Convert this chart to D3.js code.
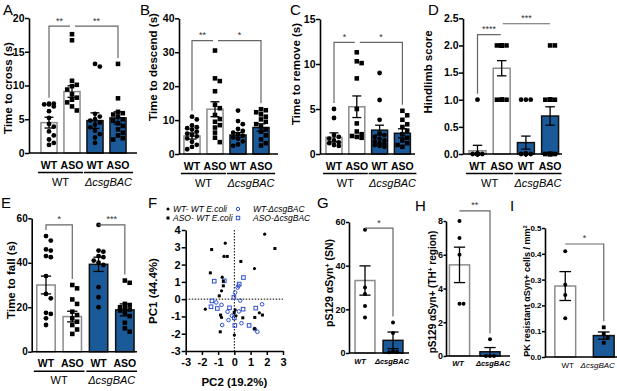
<!DOCTYPE html>
<html>
<head>
<meta charset="utf-8">
<script src="https://d3js.org/d3.v7.min.js"></script>
<style>
  body { margin: 0; background: #fff; }
  svg { font-family: "Liberation Sans", Arial, sans-serif; }
</style>
</head>
<body>
<svg width="617" height="391"></svg>
<script>
// ---- values ----
const groups4 = ["WT", "ASO", "WT", "ASO"];
const strains = ["WT", "ΔcsgBAC"];

// A: time to cross (s)
const crossMean = [4.5, 9.1, 4.8, 5.2];
const crossSem = [0.8, 0.85, 1.15, 0.9];
const crossPts = [
  [7.3, 7.3, 7.2, 7.2, 6.9, 6.2, 5.2, 4.3, 3.9, 3.2, 2.6, 2.0, 1.5, 1.2],
  [17.6, 16.7, 10.7, 10.1, 9.9, 9.4, 8.7, 8.2, 7.9, 7.5, 6.9, 6.3],
  [13.2, 12.8, 5.8, 5.4, 5.0, 4.8, 4.5, 4.2, 3.8, 3.3, 2.8, 2.3, 1.5],
  [13.2, 8.1, 6.1, 5.9, 5.7, 5.4, 5.0, 4.8, 4.4, 4.0, 3.5, 3.0, 2.6, 2.2, 2.0]
];
// B: time to descend (s)
const descMean = [5.3, 13.2, 5.6, 7.8];
const descSem = [0.9, 2.2, 0.7, 1.1];
const descPts = [
  [11.0, 10.2, 8.4, 7.9, 7.6, 7.2, 6.6, 6.0, 5.6, 5.2, 4.6, 3.6, 2.7, 2.1, 1.4],
  [30.5, 22.3, 21.5, 18.5, 14.5, 13.5, 11.5, 10.3, 9.5, 8.5, 7.8, 6.3, 4.8, 3.5],
  [12.8, 9.7, 8.8, 7.4, 6.8, 6.3, 5.9, 5.4, 4.9, 4.5, 3.7, 2.8, 2.4],
  [13.2, 12.9, 12.3, 11.7, 11.0, 10.2, 9.5, 8.8, 8.1, 7.3, 6.6, 5.5, 4.3, 3.2, 2.5]
];
// C: time to remove (s)
const remMean = [1.85, 5.25, 2.65, 2.3];
const remSem = [0.5, 1.2, 0.55, 0.5];
const remPts = [
  [5.0, 4.0, 2.1, 1.9, 1.7, 1.5, 1.3, 1.2, 1.0, 0.9],
  [11.3, 10.3, 10.1, 8.4, 5.0, 3.4, 2.5, 2.2, 2.0, 1.9, 1.8],
  [9.0, 6.0, 3.8, 2.3, 2.1, 1.9, 1.7, 1.5, 1.4, 1.2, 1.1, 1.0, 0.9, 0.8],
  [4.8, 4.3, 3.8, 3.3, 3.0, 2.6, 2.2, 1.8, 1.5, 1.2, 1.0, 0.8]
];
// D: hindlimb score
const hindMean = [0.06, 1.58, 0.21, 0.7];
const hindSem = [0.1, 0.14, 0.12, 0.17];
const hindPts = [
  [1, 0, 0, 0, 0, 0, 0, 0, 0, 0, 0, 0, 0, 0],
  [2, 2, 2, 2, 2, 2, 2, 1, 1, 1, 1, 1],
  [1, 1, 1, 0, 0, 0, 0, 0, 0, 0, 0, 0, 0, 0],
  [2, 2, 1, 1, 1, 1, 1, 1, 0, 0, 0, 0, 0, 0]
];
// E: time to fall (s)
const fallMean = [30.0, 15.8, 39.3, 18.8];
const fallSem = [4.0, 2.4, 3.2, 2.7];
const fallPts = [
  [52, 50, 46, 45.5, 43, 42.5, 34, 26, 24, 17.5, 17, 15, 12],
  [30, 28.5, 23.5, 21.5, 18, 16.5, 15, 13.5, 12, 10, 8],
  [57, 45.5, 45, 43, 42.5, 41, 40, 39, 29, 24.5, 20],
  [32, 31, 21.5, 21, 20, 19.5, 19, 18.5, 17.5, 16, 13, 10.5, 9]
];
// F: PCA (PC2, PC1)
const pcaWtWt = [[1.87, 3.76], [-0.56, 3.24], [-0.64, 2.47], [1.24, 1.77], [-0.75, 1.27], [-0.79, 0.48],
  [-1.79, -0.58], [-0.79, -1.06], [0.05, -0.62], [1.54, -0.79], [1.24, -1.71], [0.0, -2.08], [0.1, -0.96]];
const pcaAsoWt = [[2.5, 2.93], [-1.4, 2.87], [-0.44, 2.47], [0.4, 2.18], [-1.48, 1.52], [-0.68, 1.04],
  [-0.68, 0.77], [-0.93, 0.19], [-0.85, -0.92], [-0.01, -0.77], [0.52, -1.08], [1.73, -0.92], [1.26, -1.06], [-0.87, -1.89]];
const pcaWtKo = [[0.25, 0.77], [0.2, 0.67], [0.05, 0.38], [-1.12, -0.19], [-0.79, -0.33], [-0.42, -0.73],
  [0.36, -0.08], [0.28, -0.71], [1.71, -0.3], [-0.15, -0.96], [-0.36, -1.21], [-0.75, -1.5], [0.44, -1.39], [1.26, -1.73], [1.42, -1.89]];
const pcaAsoKo = [[-1.24, 1.04], [-0.62, 1.06], [0.56, 1.25], [0.3, 0.87], [-1.38, -0.1], [-1.44, -0.44],
  [-1.05, -0.54], [-0.3, -0.5], [0.54, -0.58], [1.32, -0.52], [0.0, -1.08], [0.03, -1.52], [0.91, -1.52], [-0.03, 0.1]];
// G: pS129 aSyn+ (SN)
const snMean = [33.2, 5.8];
const snSem = [6.7, 3.8];
const snPts = [[56.5, 30, 27, 21.5, 16.3], [14, 9.2, 0.8, 0.6, 0.4]];
// H: pS129 aSyn+ (TH+ region)
const thMean = [5.4, 0.25];
const thSem = [1.05, 0.25];
const thPts = [[8.0, 7.0, 6.0, 3.1, 3.1], [1.0, 0, 0, 0]];
// I: PK resistant aSyn+ cells / mm2
const pkMean = [0.275, 0.083];
const pkSem = [0.056, 0.014];
const pkPts = [[0.41, 0.28, 0.24, 0.15], [0.115, 0.09, 0.075, 0.055]];

// ---- drawing ----
const svg = d3.select("svg");
const BLUE = "#1b5a99";
const PBLUE = "#2f4fd0";

function letter(t, x, y) {
  svg.append("text").attr("x", x).attr("y", y).attr("font-size", 15).text(t);
}

function ytitle(parts, x, y, size) {
  const t = svg.append("text")
    .attr("transform", `translate(${x},${y}) rotate(-90)`)
    .attr("text-anchor", "middle").attr("font-weight", "bold")
    .attr("font-size", size);
  parts.forEach(p => {
    const s = t.append("tspan").text(p[0]);
    if (p[1] === "sup") s.attr("baseline-shift", "super").attr("font-size", size * 0.65);
  });
}

// small beeswarm so points of a column do not sit on top of each other
function spread(vals, y, bw, d) {
  const lim = Math.max(0, (bw - d) / 2);
  const s = Math.min(d, lim) || 1;
  const cands = [0];
  for (let k = 1; k * s <= lim + 0.01; k++) cands.push(k * s, -k * s);
  const order = vals.map((v, i) => i).sort((a, b) => vals[b] - vals[a]);
  const placed = [], out = [];
  order.forEach(j => {
    const py = y(vals[j]);
    let best = 0, bestD = -1;
    for (const c of cands) {
      let md = Infinity;
      placed.forEach(q => { md = Math.min(md, Math.hypot(c - q[0], py - q[1])); });
      if (md >= d) { best = c; bestD = md; break; }
      if (md > bestD) { bestD = md; best = c; }
    }
    out[j] = best;
    placed.push([best, py]);
  });
  return out;
}

function marker(g, shape, x, y, size, opts) {
  opts = opts || {};
  const fill = opts.fill || "#000";
  if (shape === "sq") {
    g.append("rect").attr("x", x - size / 2).attr("y", y - size / 2)
      .attr("width", size).attr("height", size)
      .attr("fill", opts.open ? "none" : fill)
      .attr("stroke", opts.open ? fill : "none").attr("stroke-width", opts.open ? 1 : 0);
  } else {
    g.append("circle").attr("cx", x).attr("cy", y).attr("r", size / 2)
      .attr("fill", opts.open ? "none" : fill)
      .attr("stroke", opts.open ? fill : "none").attr("stroke-width", opts.open ? 1 : 0);
  }
}

function styleAxis(a, size) {
  a.select(".domain").attr("stroke-width", 1.6);
  a.selectAll(".tick line").attr("stroke-width", 1.5);
  a.selectAll("text").attr("font-size", size).attr("font-weight", "bold")
    .attr("font-family", "Liberation Sans, Arial, sans-serif").attr("fill", "#000");
}

function barPanel(p) {
  const g = svg.append("g");
  const y = d3.scaleLinear().domain(p.domain).range(p.yRange);
  const x = d3.scaleBand().domain(d3.range(p.means.length)).range(p.band)
    .paddingInner(p.pad).paddingOuter(p.pad / 2);
  const bw = x.bandwidth();
  const cx = i => x(i) + bw / 2;

  // bars
  p.means.forEach((m, i) => {
    const ko = p.ko[i];
    g.append("rect").attr("x", x(i)).attr("y", y(m))
      .attr("width", bw).attr("height", y(0) - y(m))
      .attr("fill", ko ? BLUE : "#fff")
      .attr("stroke", ko ? "#111" : "#8c8c8c").attr("stroke-width", 1.5);
  });

  // points
  const ms = p.ms || 4.8;
  p.pts.forEach((vals, i) => {
    const off = spread(vals, y, bw, ms);
    vals.forEach((v, k) => marker(g, p.shapes[i], cx(i) + off[k], y(v), p.shapes[i] === "sq" ? ms * 0.95 : ms));
  });

  // error bars (mean +/- sem)
  p.means.forEach((m, i) => {
    const s = p.sems[i], c = cx(i), w = bw * 0.28;
    g.append("line").attr("x1", c).attr("x2", c).attr("y1", y(m + s)).attr("y2", y(Math.max(0, m - s)))
      .attr("stroke", "#000").attr("stroke-width", 1.3);
    [m + s, Math.max(0, m - s)].forEach(v => g.append("line").attr("x1", c - w).attr("x2", c + w)
      .attr("y1", y(v)).attr("y2", y(v)).attr("stroke", "#000").attr("stroke-width", 1.3));
  });

  // axes
  const ts = p.tick || 4;
  const ya = g.append("g").attr("transform", `translate(${p.ax},0)`)
    .call(d3.axisLeft(y).tickValues(p.ticks).tickFormat(p.fmt || d3.format("d")).tickSize(ts).tickSizeOuter(0));
  styleAxis(ya, p.tickSize || 11);
  ya.selectAll("text").attr("x", -ts - (p.gap === undefined ? 0.5 : p.gap));
  g.append("line").attr("x1", p.ax).attr("x2", p.xEnd).attr("y1", y(0)).attr("y2", y(0))
    .attr("stroke", "#000").attr("stroke-width", 1.6);

  // significance brackets
  (p.sig || []).forEach(s => {
    const yl = y(s.y);
    const x1 = cx(s.a) + (s.ga || 0), x2 = cx(s.b) - (s.gb || 0);
    const path = d3.path();
    if (s.dl) { path.moveTo(x1, y(d3.max(p.pts[s.a])) - 6); path.lineTo(x1, yl); } else path.moveTo(x1, yl);
    path.lineTo(x2, yl);
    if (s.dr) path.lineTo(x2, y(d3.max(p.pts[s.b])) - 6);
    g.append("path").attr("d", path.toString()).attr("fill", "none")
      .attr("stroke", "#666").attr("stroke-width", 1.2);
    g.append("text").attr("x", (x1 + x2) / 2).attr("y", yl - 2.5).attr("text-anchor", "middle")
      .attr("font-size", 9).attr("fill", "#333").text(s.t);
  });

  // category labels
  const y0 = y(0);
  if (p.pairs) {
    p.cats.forEach((c, i) => g.append("text").attr("x", cx(i)).attr("y", y0 + 15.5)
      .attr("text-anchor", "middle").attr("font-weight", "bold").attr("font-size", 10.5).text(c));
    [[0, 1], [2, 3]].forEach((pr, k) => {
      const l = x(pr[0]) - 3, r = x(pr[1]) + bw + 3 + (k ? p.ext || 0 : 0);
      g.append("line").attr("x1", l).attr("x2", r).attr("y1", y0 + 19.5).attr("y2", y0 + 19.5)
        .attr("stroke", "#000").attr("stroke-width", 1.5);
      const t = g.append("text").attr("x", (l + r) / 2).attr("y", y0 + 32.5)
        .attr("text-anchor", "middle").attr("font-size", 11);
      if (k) t.append("tspan").attr("font-style", "italic").text(strains[1]);
      else t.text(strains[0]);
    });
  } else {
    p.cats.forEach((c, i) => g.append("text").attr("x", cx(i) + p.catDx[i]).attr("y", y0 + p.catY)
      .attr("text-anchor", "middle").attr("font-size", p.catSize)
      .attr("font-weight", p.catBold ? "bold" : "normal")
      .attr("font-style", i || p.catBold ? "italic" : "normal").text(c));
  }
}

const shp4 = ["c", "sq", "c", "sq"];
const ko4 = [false, false, true, true];

barPanel({ domain: [0, 20], yRange: [153, 18], ticks: [0, 5, 10, 15, 20], ax: 29, xEnd: 137,
  band: [37.5, 129.5], pad: 0.3, means: crossMean, sems: crossSem, pts: crossPts, shapes: shp4, ko: ko4,
  cats: groups4, pairs: true, ext: 4, tickSize: 10.5,
  sig: [{ a: 0, b: 1, y: 18.8, t: "**", dl: true, gb: 2 }, { a: 1, b: 3, y: 18.8, t: "**", dr: true, ga: 3 }] });
barPanel({ domain: [0, 40], yRange: [154, 18.3], ticks: [0, 10, 20, 30, 40], ax: 179, xEnd: 278,
  band: [180.5, 272.5], pad: 0.3, means: descMean, sems: descSem, pts: descPts, shapes: shp4, ko: ko4,
  cats: groups4, pairs: true, ext: 3, tickSize: 10.5,
  sig: [{ a: 0, b: 1, y: 33.4, t: "**", dl: true, gb: 2 }, { a: 1, b: 3, y: 33.4, t: "*", dr: true, ga: 3 }] });
barPanel({ domain: [0, 15], yRange: [154, 19], ticks: [0, 5, 10, 15], ax: 320, xEnd: 415,
  band: [322.6, 413.8], pad: 0.3, means: remMean, sems: remSem, pts: remPts, shapes: shp4, ko: ko4,
  cats: groups4, pairs: true, ext: 3, tickSize: 10.5,
  sig: [{ a: 0, b: 1, y: 12.4, t: "*", dl: true, gb: 2 }, { a: 1, b: 3, y: 12.4, t: "*", dr: true, ga: 3 }] });
barPanel({ domain: [0, 2.5], yRange: [154, 18.3], ticks: [0, 0.5, 1, 1.5, 2, 2.5], fmt: d3.format(".1f"),
  ax: 463, xEnd: 562, band: [465.4, 562.2], pad: 0.3, means: hindMean, sems: hindSem, pts: hindPts,
  shapes: ["c", "sq", "c", "sq"], ko: ko4, cats: groups4, pairs: true, ext: 0, tickSize: 10.5,
  sig: [{ a: 0, b: 1, y: 2.2, t: "****", dl: true, gb: 1 }, { a: 1, b: 3, y: 2.4, t: "***", ga: 1 }] });
barPanel({ domain: [0, 60], yRange: [351.7, 218.3], ticks: [0, 20, 40, 60], ax: 31.7, xEnd: 137,
  band: [32.85, 138], pad: 0.3, means: fallMean, sems: fallSem, pts: fallPts, shapes: shp4, ko: ko4,
  cats: groups4, pairs: true, ext: 0, tickSize: 10, tick: 3.5,
  sig: [{ a: 0, b: 1, y: 57, t: "*", dl: true, dr: true }, { a: 2, b: 3, y: 57, t: "***", dr: true }] });
barPanel({ domain: [0, 60], yRange: [353, 222], ticks: [0, 20, 40, 60], ax: 349, xEnd: 409, tickSize: 9, tick: 3,
  band: [351, 407], pad: 0.29, means: snMean, sems: snSem, pts: snPts, shapes: ["c", "c"], ko: [false, true],
  cats: strains, catY: 11, catBold: true, catSize: 7.5, catDx: [-5, -1], ms: 4,
  sig: [{ a: 0, b: 1, y: 57.2, t: "*", dr: true }] });
barPanel({ domain: [0, 8], yRange: [356, 221], ticks: [0, 2, 4, 6, 8], ax: 446, xEnd: 510, tickSize: 9, tick: 2.5,
  band: [444.25, 505.25], pad: 0.34, means: thMean, sems: thSem, pts: thPts, shapes: ["c", "c"], ko: [false, true],
  cats: strains, catY: 10, catBold: true, catSize: 7.5, catDx: [-1.5, 3], ms: 4,
  sig: [{ a: 0, b: 1, y: 8.6, t: "**", dr: true }] });
barPanel({ domain: [0, 0.5], yRange: [357, 228], ticks: [0, 0.1, 0.2, 0.3, 0.4, 0.5], fmt: d3.format(".1f"),
  ax: 545, xEnd: 617, tickSize: 8, tick: 3, band: [546, 623], pad: 0.46, means: pkMean, sems: pkSem, pts: pkPts,
  shapes: ["c", "sq"], ko: [false, true], cats: strains, catY: 11, catSize: 8, catDx: [2.5, -6], ms: 4,
  sig: [{ a: 0, b: 1, y: 0.438, t: "*", dr: true }] });

// ---- F: PCA scatter ----
(function () {
  const g = svg.append("g");
  const x = d3.scaleLinear().domain([-3, 3]).range([185.7, 283]);
  const y = d3.scaleLinear().domain([-3, 4]).range([351, 230]);
  const xa = g.append("g").attr("transform", `translate(0,${y(-3)})`)
    .call(d3.axisBottom(x).tickValues(d3.range(-3, 4)).tickFormat(d3.format("d")).tickSize(4).tickSizeOuter(0));
  const ya = g.append("g").attr("transform", `translate(${x(-3)},0)`)
    .call(d3.axisLeft(y).tickValues(d3.range(-3, 5)).tickFormat(d3.format("d")).tickSize(4).tickSizeOuter(0));
  styleAxis(xa, 11);
  styleAxis(ya, 11);
  xa.selectAll("text").text(d => d3.format("d")(d).replace("−", "-"));
  ya.selectAll("text").attr("x", -5).text(d => d3.format("d")(d).replace("−", "-"));
  g.append("line").attr("x1", x(0)).attr("x2", x(0)).attr("y1", y(4)).attr("y2", y(-3))
    .attr("stroke", "#000").attr("stroke-dasharray", "1.5,1.5");
  g.append("line").attr("x1", x(-3)).attr("x2", x(3)).attr("y1", y(0)).attr("y2", y(0))
    .attr("stroke", "#000").attr("stroke-dasharray", "1.5,1.5");
  pcaWtKo.forEach(d => marker(g, "c", x(d[0]), y(d[1]), 3.6, { fill: PBLUE, open: true }));
  pcaAsoKo.forEach(d => marker(g, "sq", x(d[0]), y(d[1]), 3.6, { fill: PBLUE, open: true }));
  pcaWtWt.forEach(d => marker(g, "c", x(d[0]), y(d[1]), 3.2));
  pcaAsoWt.forEach(d => marker(g, "sq", x(d[0]), y(d[1]), 3));
  g.append("text").attr("x", (x(-3) + x(3)) / 2).attr("y", 386).attr("text-anchor", "middle")
    .attr("font-weight", "bold").attr("font-size", 11.5).text("PC2 (19.2%)");
  // legend
  const leg = [
    ["c", false, "WT- WT ", "E.coli", 168, 209],
    ["sq", false, "ASO- WT ", "E.coli", 168, 218],
    ["c", true, "WT-", "ΔcsgBAC", 238, 209],
    ["sq", true, "ASO-", "ΔcsgBAC", 238, 218]
  ];
  leg.forEach(l => {
    if (l[1]) marker(g, l[0], l[4], l[5], 3.4, { fill: PBLUE, open: true });
    else marker(g, l[0], l[4], l[5], 3);
    const t = g.append("text").attr("x", l[4] + (l[1] ? 15 : 5)).attr("y", l[5] + 3)
      .attr("font-size", 8.5).attr("font-style", "italic");
    t.append("tspan").text(l[2]);
    t.append("tspan").text(l[3]);
  });
})();

// ---- titles and panel letters ----
ytitle([["Time to cross (s)"]], 11.5, 88, 11.5);
ytitle([["Time to descend (s)"]], 157, 67, 11.5);
ytitle([["Time to remove (s)"]], 300, 74, 11.5);
ytitle([["Hindlimb score"]], 432, 72, 11.5);
ytitle([["Time to fall (s)"]], 14.5, 280, 11.5);
ytitle([["PC1 (44.4%)"]], 157, 291, 11.5);
ytitle([["pS129 αSyn"], ["+", "sup"], [" (SN)"]], 333, 283, 10.5);
ytitle([["pS129 αSyn+ (TH"], ["+", "sup"], [" region)"]], 435.5, 292, 10);
ytitle([["PK resistant αSyn+ cells / mm"], ["2", "sup"]], 530, 291, 9);

letter("A", 3, 15);
letter("B", 140, 15);
letter("C", 290, 15);
letter("D", 428, 15);
letter("E", 1, 208);
letter("F", 148, 208);
letter("G", 317, 208);
letter("H", 415, 211);
letter("I", 510, 211);
</script>
</body>
</html>
